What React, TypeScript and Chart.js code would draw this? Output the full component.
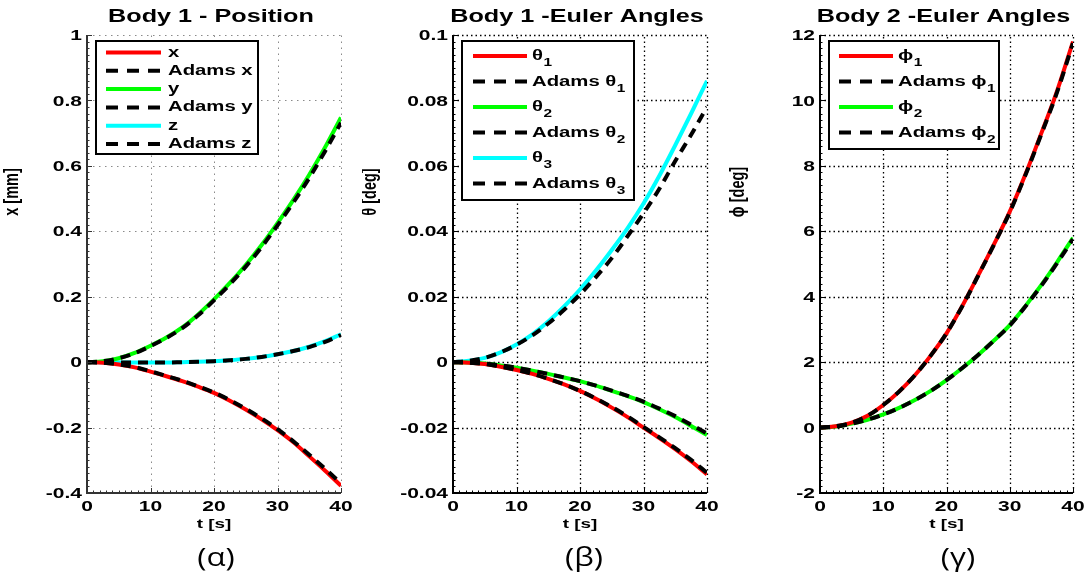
import React, { useEffect, useRef } from "react";
import { Chart, registerables } from "chart.js";
Chart.register(...registerables);

// ---------------- DATA ----------------
const timeSec = [0, 2.5, 5, 7.5, 10, 12.5, 15, 17.5, 20, 22.5, 25, 27.5, 30, 32.5, 35, 37.5, 40];
const timeTicks = [0, 10, 20, 30, 40];
const timeTickLabels = ["0", "10", "20", "30", "40"];

// Body 1 - Position [mm]
const posX = [0, -0.002, -0.007, -0.016, -0.029, -0.043, -0.058, -0.075, -0.094, -0.118, -0.145, -0.175, -0.208, -0.245, -0.288, -0.332, -0.378];
const adamsPosX = [0, -0.002, -0.007, -0.015, -0.028, -0.042, -0.057, -0.074, -0.093, -0.116, -0.143, -0.172, -0.205, -0.242, -0.283, -0.326, -0.371];
const posY = [0, 0.003, 0.012, 0.028, 0.05, 0.075, 0.106, 0.146, 0.192, 0.242, 0.297, 0.358, 0.425, 0.496, 0.573, 0.657, 0.748];
const adamsPosY = [0, 0.003, 0.012, 0.027, 0.049, 0.074, 0.104, 0.143, 0.189, 0.238, 0.292, 0.352, 0.418, 0.488, 0.563, 0.645, 0.732];
const posZ = [0, 0, -0.001, -0.001, -0.001, -0.001, 0, 0.001, 0.003, 0.006, 0.01, 0.016, 0.024, 0.034, 0.047, 0.064, 0.085];
const adamsPosZ = [0, 0, -0.001, -0.001, -0.001, -0.001, 0, 0.001, 0.003, 0.006, 0.01, 0.016, 0.024, 0.034, 0.046, 0.062, 0.083];
const posTicks = [-0.4, -0.2, 0, 0.2, 0.4, 0.6, 0.8, 1];
const posTickLabels = ["-0.4", "-0.2", "0", "0.2", "0.4", "0.6", "0.8", "1"];

// Body 1 - Euler angles [deg]
const theta1 = [0, -0.0002, -0.0006, -0.0014, -0.0024, -0.0036, -0.0051, -0.0068, -0.0088, -0.0112, -0.0139, -0.0168, -0.02, -0.0232, -0.0266, -0.0303, -0.0343];
const adamsTheta1 = [0, -0.0002, -0.0006, -0.0014, -0.0024, -0.0036, -0.0051, -0.0068, -0.0088, -0.0111, -0.0137, -0.0166, -0.0198, -0.023, -0.0263, -0.0299, -0.0338];
const theta2 = [0, -0.0001, -0.0004, -0.001, -0.0017, -0.0026, -0.0036, -0.0047, -0.0058, -0.0072, -0.0088, -0.0104, -0.0122, -0.0144, -0.0168, -0.0195, -0.0223];
const adamsTheta2 = [0, -0.0001, -0.0004, -0.001, -0.0017, -0.0026, -0.0036, -0.0047, -0.0058, -0.0072, -0.0087, -0.0103, -0.0121, -0.0142, -0.0165, -0.0191, -0.0218];
const theta3 = [0, 0.0004, 0.0013, 0.003, 0.0054, 0.0085, 0.0124, 0.017, 0.0222, 0.028, 0.0343, 0.041, 0.0485, 0.057, 0.0663, 0.076, 0.086];
const adamsTheta3 = [0, 0.0004, 0.0013, 0.003, 0.0053, 0.0082, 0.0118, 0.016, 0.0207, 0.026, 0.0318, 0.0385, 0.0455, 0.053, 0.0615, 0.0695, 0.078];
const body1AngleTicks = [-0.04, -0.02, 0, 0.02, 0.04, 0.06, 0.08, 0.1];
const body1AngleTickLabels = ["-0.04", "-0.02", "0", "0.02", "0.04", "0.06", "0.08", "0.1"];

// Body 2 - Euler angles [deg]
const phi1 = [0, 0.04, 0.15, 0.36, 0.69, 1.1, 1.6, 2.2, 2.88, 3.72, 4.65, 5.6, 6.6, 7.75, 9.0, 10.3, 11.8];
const adamsPhi1 = [0, 0.04, 0.15, 0.36, 0.69, 1.1, 1.6, 2.2, 2.88, 3.71, 4.64, 5.59, 6.58, 7.73, 8.97, 10.26, 11.75];
const phi2 = [0, 0.03, 0.12, 0.24, 0.4, 0.6, 0.84, 1.12, 1.45, 1.82, 2.22, 2.66, 3.13, 3.72, 4.36, 5.06, 5.8];
const adamsPhi2 = [0, 0.03, 0.12, 0.24, 0.4, 0.6, 0.84, 1.12, 1.45, 1.82, 2.22, 2.66, 3.12, 3.71, 4.34, 5.03, 5.76];
const body2AngleTicks = [-2, 0, 2, 4, 6, 8, 10, 12];
const body2AngleTickLabels = ["-2", "0", "2", "4", "6", "8", "10", "12"];

// ---------------- STYLE ----------------
const FONT = '"Liberation Sans", Arial, Helvetica, "DejaVu Sans", sans-serif';
const SX = 1.4;
const H = 578;

type Series = { main: string; sub?: string; data: number[]; color: string; dashed: boolean };
type PanelCfg = {
  left: number;
  width: number;
  plotLeft: number;
  plotRight: number;
  title: string;
  yTitle: string;
  yTitleX: number;
  yTitleY: number;
  yTicks: number[];
  yTickLabels: string[];
  series: Series[];
  legend: { x0: number; y0: number; x1: number; y1: number; lx0: number; lx1: number; tx: number; rowY0: number; rowStep: number };
  gridColor: string;
  gridDash: number[];
  gridWidth: number;
  axisColor: string;
  caption: string;
  captionX: number;
};

function drawS(ctx: CanvasRenderingContext2D, text: string, x: number, y: number, font: string, align: CanvasTextAlign, sx = SX) {
  ctx.save();
  ctx.font = font;
  ctx.textAlign = align;
  ctx.textBaseline = "middle";
  ctx.fillStyle = "#000";
  ctx.translate(x, y);
  ctx.scale(sx, 1);
  ctx.fillText(text, 0, 0);
  ctx.restore();
}
function widthS(ctx: CanvasRenderingContext2D, text: string, font: string, sx = SX) {
  ctx.save();
  ctx.font = font;
  const w = ctx.measureText(text).width * sx;
  ctx.restore();
  return w;
}

function makePlugin(cfg: PanelCfg) {
  const off = cfg.left;
  return {
    id: "matlabStyle",
    beforeDatasetsDraw(chart: any) {
      const { ctx, chartArea: a } = chart;
      const xs = chart.scales.x;
      const ys = chart.scales.y;
      ctx.save();
      ctx.strokeStyle = cfg.gridColor;
      ctx.lineWidth = cfg.gridWidth;
      ctx.setLineDash(cfg.gridDash);
      timeTicks.forEach((v, i) => {
        if (i === 0) return;
        const px = Math.round(xs.getPixelForValue(v)) + 0.5;
        ctx.beginPath();
        ctx.moveTo(px, a.bottom);
        ctx.lineTo(px, a.top);
        ctx.stroke();
      });
      cfg.yTicks.forEach((v, i) => {
        if (i === 0) return;
        const py = Math.round(ys.getPixelForValue(v)) + 0.5;
        ctx.beginPath();
        ctx.moveTo(a.left, py);
        ctx.lineTo(a.right, py);
        ctx.stroke();
      });
      ctx.restore();
    },
    afterDatasetsDraw(chart: any) {
      const { ctx, chartArea: a } = chart;
      const xs = chart.scales.x;
      const ys = chart.scales.y;
      ctx.save();
      ctx.setLineDash([]);
      // axes
      ctx.strokeStyle = cfg.axisColor;
      ctx.lineWidth = 2;
      ctx.beginPath();
      ctx.moveTo(a.left, a.top);
      ctx.lineTo(a.left, a.bottom);
      ctx.lineTo(a.right, a.bottom);
      ctx.stroke();
      // major ticks
      ctx.lineWidth = 1;
      timeTicks.forEach((v) => {
        const px = Math.round(xs.getPixelForValue(v)) + 0.5;
        ctx.beginPath();
        ctx.moveTo(px, a.bottom);
        ctx.lineTo(px, a.bottom - 5);
        ctx.stroke();
      });
      cfg.yTicks.forEach((v) => {
        const py = Math.round(ys.getPixelForValue(v)) + 0.5;
        ctx.beginPath();
        ctx.moveTo(a.left, py);
        ctx.lineTo(a.left + 5, py);
        ctx.stroke();
      });
      // minor ticks
      const xStep = (timeTicks[1] - timeTicks[0]) / 10;
      for (let k = 0; k <= (timeTicks.length - 1) * 10; k++) {
        const px = Math.round(xs.getPixelForValue(timeTicks[0] + k * xStep)) + 0.5;
        ctx.beginPath();
        ctx.moveTo(px, a.bottom);
        ctx.lineTo(px, a.bottom - 2.5);
        ctx.stroke();
      }
      const yStep = (cfg.yTicks[1] - cfg.yTicks[0]) / 10;
      for (let k = 0; k <= (cfg.yTicks.length - 1) * 10; k++) {
        const py = Math.round(ys.getPixelForValue(cfg.yTicks[0] + k * yStep)) + 0.5;
        ctx.beginPath();
        ctx.moveTo(a.left, py);
        ctx.lineTo(a.left + 2.5, py);
        ctx.stroke();
      }
      // tick labels
      const tickFont = `bold 15px ${FONT}`;
      timeTicks.forEach((v, i) => {
        drawS(ctx, timeTickLabels[i], xs.getPixelForValue(v), a.bottom + 14, tickFont, "center");
      });
      cfg.yTicks.forEach((v, i) => {
        drawS(ctx, cfg.yTickLabels[i], a.left - 5, ys.getPixelForValue(v) + 1, tickFont, "right");
      });
      // axis titles
      drawS(ctx, "t [s]", (a.left + a.right) / 2, a.bottom + 31, `bold 13.5px ${FONT}`, "center");
      ctx.save();
      ctx.translate(cfg.yTitleX - off, cfg.yTitleY);
      ctx.scale(SX, 1);
      ctx.rotate(-Math.PI / 2);
      ctx.font = `bold 14.5px ${FONT}`;
      ctx.textAlign = "center";
      ctx.textBaseline = "middle";
      ctx.fillStyle = "#000";
      ctx.fillText(cfg.yTitle, 0, 0);
      ctx.restore();
      // chart title
      drawS(ctx, cfg.title, (a.left + a.right) / 2 - 3, 17, `bold 18px ${FONT}`, "center");
      // caption
      drawS(ctx, cfg.caption, cfg.captionX - off, 559, `26px "Open Sans", "Noto Sans", sans-serif`, "center", 1.2);
      // legend
      const L = cfg.legend;
      ctx.fillStyle = "#fff";
      ctx.fillRect(L.x0 - off, L.y0, L.x1 - L.x0, L.y1 - L.y0);
      ctx.strokeStyle = "#000";
      ctx.lineWidth = 2;
      ctx.strokeRect(L.x0 - off, L.y0, L.x1 - L.x0, L.y1 - L.y0);
      const lf = `bold 14.5px ${FONT}`;
      const sf = `bold 11px ${FONT}`;
      cfg.series.forEach((s, i) => {
        const y = L.rowY0 + i * L.rowStep;
        ctx.save();
        ctx.strokeStyle = s.color;
        ctx.lineWidth = 4;
        ctx.setLineDash(s.dashed ? [12, 9] : []);
        ctx.beginPath();
        ctx.moveTo(L.lx0 - off, y);
        ctx.lineTo(L.lx1 - off, y);
        ctx.stroke();
        ctx.restore();
        drawS(ctx, s.main, L.tx - off, y, lf, "left");
        if (s.sub) {
          const w = widthS(ctx, s.main, lf);
          drawS(ctx, s.sub, L.tx - off + w + 0.5, y + 7, sf, "left");
        }
      });
      ctx.restore();
    },
  };
}

const RED = "#ff0000";
const GREEN = "#00ff00";
const CYAN = "#00ffff";
const BLACK = "#000000";

const panels: PanelCfg[] = [
  {
    left: 0,
    width: 362,
    plotLeft: 87,
    plotRight: 341,
    title: "Body 1 - Position",
    yTitle: "x [mm]",
    yTitleX: 12,
    yTitleY: 192,
    yTicks: posTicks,
    yTickLabels: posTickLabels,
    series: [
      { main: "x", data: posX, color: RED, dashed: false },
      { main: "Adams x", data: adamsPosX, color: BLACK, dashed: true },
      { main: "y", data: posY, color: GREEN, dashed: false },
      { main: "Adams y", data: adamsPosY, color: BLACK, dashed: true },
      { main: "z", data: posZ, color: CYAN, dashed: false },
      { main: "Adams z", data: adamsPosZ, color: BLACK, dashed: true },
    ],
    legend: { x0: 96, y0: 41, x1: 258, y1: 154, lx0: 106, lx1: 161, tx: 168, rowY0: 52.5, rowStep: 18.3 },
    gridColor: "#8a8a8a",
    gridDash: [1.5, 4.5],
    gridWidth: 1,
    axisColor: "#333",
    caption: "(α)",
    captionX: 216,
  },
  {
    left: 362,
    width: 366,
    plotLeft: 453,
    plotRight: 707,
    title: "Body 1 -Euler Angles",
    yTitle: "θ [deg]",
    yTitleX: 370,
    yTitleY: 192,
    yTicks: body1AngleTicks,
    yTickLabels: body1AngleTickLabels,
    series: [
      { main: "θ", sub: "1", data: theta1, color: RED, dashed: false },
      { main: "Adams θ", sub: "1", data: adamsTheta1, color: BLACK, dashed: true },
      { main: "θ", sub: "2", data: theta2, color: GREEN, dashed: false },
      { main: "Adams θ", sub: "2", data: adamsTheta2, color: BLACK, dashed: true },
      { main: "θ", sub: "3", data: theta3, color: CYAN, dashed: false },
      { main: "Adams θ", sub: "3", data: adamsTheta3, color: BLACK, dashed: true },
    ],
    legend: { x0: 462, y0: 41, x1: 634, y1: 200, lx0: 473, lx1: 527, tx: 532, rowY0: 56, rowStep: 25.5 },
    gridColor: "#000",
    gridDash: [1.5, 3],
    gridWidth: 1.3,
    axisColor: "#000",
    caption: "(β)",
    captionX: 584,
  },
  {
    left: 728,
    width: 360,
    plotLeft: 820,
    plotRight: 1073,
    title: "Body 2 -Euler Angles",
    yTitle: "ϕ [deg]",
    yTitleX: 738,
    yTitleY: 192,
    yTicks: body2AngleTicks,
    yTickLabels: body2AngleTickLabels,
    series: [
      { main: "ϕ", sub: "1", data: phi1, color: RED, dashed: false },
      { main: "Adams ϕ", sub: "1", data: adamsPhi1, color: BLACK, dashed: true },
      { main: "ϕ", sub: "2", data: phi2, color: GREEN, dashed: false },
      { main: "Adams ϕ", sub: "2", data: adamsPhi2, color: BLACK, dashed: true },
    ],
    legend: { x0: 829, y0: 41, x1: 999, y1: 149, lx0: 839, lx1: 893, tx: 898, rowY0: 56, rowStep: 25.5 },
    gridColor: "#000",
    gridDash: [1.5, 3],
    gridWidth: 1.3,
    axisColor: "#000",
    caption: "(γ)",
    captionX: 958,
  },
];

function Panel({ cfg }: { cfg: PanelCfg }) {
  const ref = useRef<HTMLCanvasElement>(null);
  useEffect(() => {
    const yMin = cfg.yTicks[0];
    const yMax = cfg.yTicks[cfg.yTicks.length - 1];
    const chart = new Chart(ref.current as HTMLCanvasElement, {
      type: "line",
      data: {
        datasets: cfg.series.map((s) => ({
          label: s.main + (s.sub || ""),
          data: timeSec.map((t, k) => ({ x: t, y: s.data[k] })),
          borderColor: s.color,
          borderWidth: 4,
          borderDash: s.dashed ? [10, 7] : [],
          pointRadius: 0,
          fill: false,
          cubicInterpolationMode: "monotone" as const,
          order: s.dashed ? 0 : 1,
        })),
      },
      options: {
        animation: false,
        responsive: false,
        events: [],
        layout: { padding: { top: 35, left: 0, bottom: 0, right: cfg.width - (cfg.plotRight - cfg.left) } },
        plugins: { legend: { display: false }, title: { display: false }, tooltip: { enabled: false } },
        scales: {
          x: {
            type: "linear",
            min: timeTicks[0],
            max: timeTicks[timeTicks.length - 1],
            ticks: { display: false },
            grid: { display: false },
            border: { display: false },
            afterFit: (s: any) => {
              s.height = 85;
            },
          },
          y: {
            type: "linear",
            min: yMin,
            max: yMax,
            ticks: { display: false },
            grid: { display: false },
            border: { display: false },
            afterFit: (s: any) => {
              s.width = cfg.plotLeft - cfg.left;
            },
          },
        },
      },
      plugins: [makePlugin(cfg)],
    } as any);
    return () => chart.destroy();
  }, [cfg]);
  return (
    <canvas
      ref={ref}
      width={cfg.width}
      height={H}
      style={{ position: "absolute", left: cfg.left, top: 0, width: cfg.width, height: H }}
    />
  );
}

export default function App() {
  return (
    <div style={{ position: "fixed", left: 0, top: 0, width: 1088, height: H, background: "#fff", overflow: "hidden" }}>
      {panels.map((p, i) => (
        <Panel key={i} cfg={p} />
      ))}
    </div>
  );
}
